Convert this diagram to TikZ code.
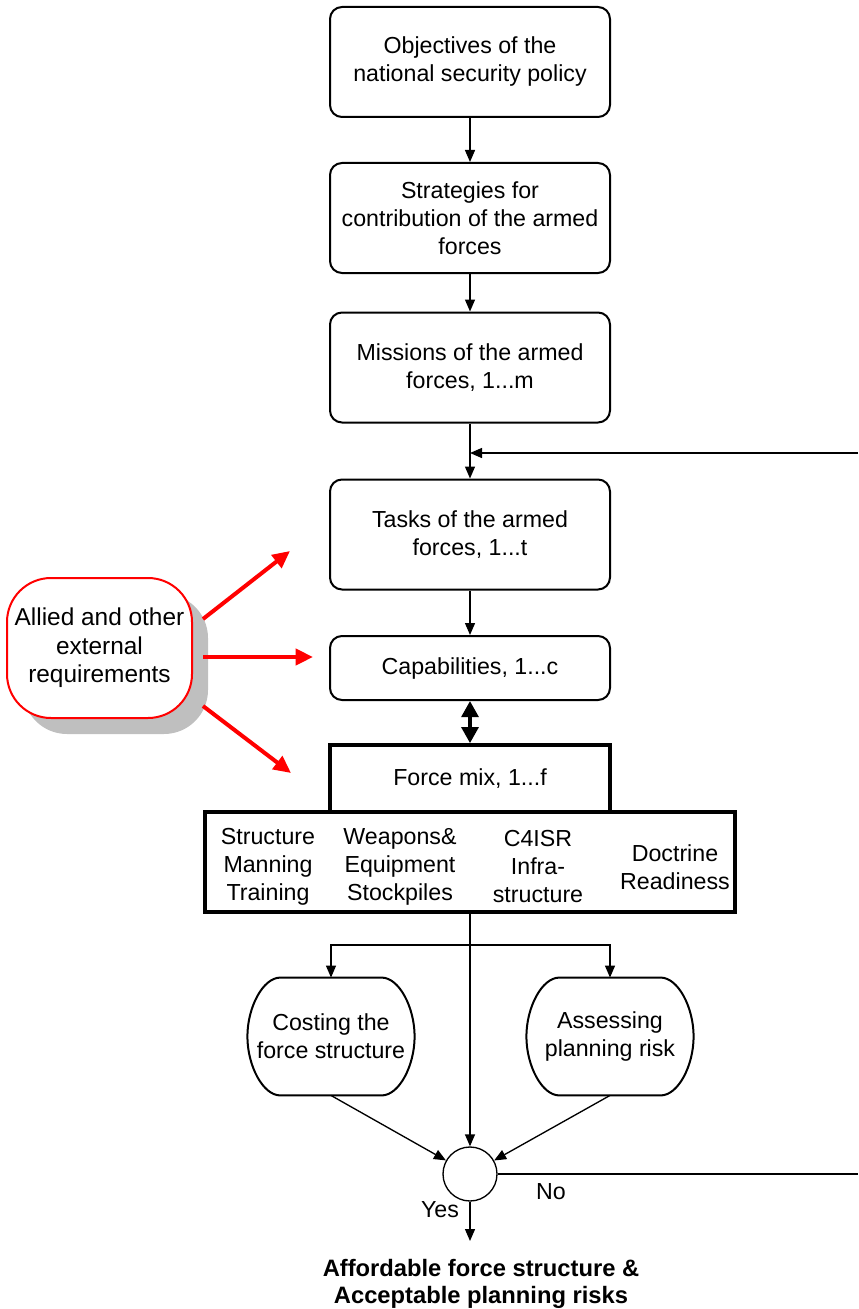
\documentclass[tikz,border=0pt]{standalone}
\usepackage{fontspec}
\setmainfont{Liberation Sans}
\usetikzlibrary{arrows.meta,calc}
\begin{document}
\begin{tikzpicture}[x=0.75pt,y=-0.75pt,
  every node/.style={font=\fontsize{17.4}{21}\selectfont, align=center, inner sep=0pt},
  box/.style={draw, line width=1.5pt, rounded corners=9pt, minimum width=210pt, minimum height=82.5pt},
  thickbox/.style={draw, line width=3pt, minimum width=210pt, minimum height=50pt},
  oval/.style={minimum width=125pt, minimum height=88pt},
  ovalline/.style={line width=1.5pt},
  arr/.style={-{Triangle[length=9pt,width=7.5pt]}, line width=1pt},
  dblarr/.style={{Triangle[length=12pt,width=12.5pt]}-{Triangle[length=12pt,width=12.5pt]}, line width=2.8pt},
  redarr/.style={-{Triangle[length=13pt,width=12pt]}, line width=3pt, red}]
\useasboundingbox (0,0) rectangle (858,1309);

\node[box] (obj) at (470,62) {Objectives of the\\national security policy};
\node[box] (str) at (470,218) {Strategies for\\contribution of the armed\\forces};
\node[box] (mis) at (470,367.5) {Missions of the armed\\forces, 1...m};
\node[box] (tas) at (470,534.5) {Tasks of the armed\\forces, 1...t};
\node[box, minimum height=48pt] (cap) at (470,668) {Capabilities, 1...c};

\node[draw, line width=3pt, minimum width=397.5pt, minimum height=75pt] (mix) at (470,862) {};
\node[thickbox] (force) at (470,778.5) {Force mix, 1...f};
\node (c1) at (268,867) {Structure\\Manning\\Training};
\node (c2) at (400,867) {Weapons\&\\Equipment\\Stockpiles};
\node (c3) at (538,867) {C4ISR\\Infra-\\structure};
\node (c4) at (675,867) {Doctrine\\Readiness};

\node[oval] (cost) at (331,1036.5) {Costing the\\force structure};
\node[oval] (assess) at (610,1036.5) {Assessing\\planning risk};
\foreach \N in {cost,assess}{
  \draw[ovalline] ([xshift=-38pt]\N.north) -- ([xshift=38pt]\N.north)
    .. controls ([xshift=51pt]\N.north) and ([yshift=22pt]\N.east) .. (\N.east)
    .. controls ([yshift=-22pt]\N.east) and ([xshift=51pt]\N.south) .. ([xshift=38pt]\N.south)
    -- ([xshift=-38pt]\N.south)
    .. controls ([xshift=-51pt]\N.south) and ([yshift=-22pt]\N.west) .. (\N.west)
    .. controls ([yshift=22pt]\N.west) and ([xshift=-51pt]\N.north) .. cycle;
}
\node[draw, circle, line width=1pt, minimum size=40.5pt] (circ) at (470,1174) {};

\node (yes) at (440,1210) {Yes};
\node (no) at (551,1192) {No};
\node[font=\fontsize{17.8}{20}\selectfont\bfseries] (res) at (481,1284) {Affordable force structure \&\\Acceptable planning risks};

% allied
\node[fill=black!25, rounded corners=33pt, minimum width=138.75pt, minimum height=105pt] (allsh) at (115.5,664) {};
\node[draw=red, fill=white, line width=1.5pt, rounded corners=33pt, minimum width=138.75pt, minimum height=105pt, font=\fontsize{18.3}{21.3}\selectfont] (all) at (99.5,648) {Allied and other\\external\\requirements};

% connectors
\draw[arr] (obj) -- (str);
\draw[arr] (str) -- (mis);
\draw[arr] (mis) -- (tas);
\draw[arr] (tas) -- (cap);
\draw[dblarr] (cap) -- (force);

\coordinate (fork) at (470,945);
\draw[arr] (mix.south) -- (circ.north);
\draw[arr] (fork) -| (cost.north);
\draw[arr] (fork) -| (assess.north);
\draw[arr] (cost.south) -- (circ);
\draw[arr] (assess.south) -- (circ);

\coordinate (noEnd) at (858,1174);
\draw[line width=1pt] (circ.east) -- (noEnd);
\coordinate (fbR) at (858,453);
\coordinate (fbL) at (470,453);
\draw[arr] (fbR) -- (fbL);
\coordinate (yesEnd) at (470,1241);
\draw[arr] (circ.south) -- (yesEnd);

\coordinate (r1) at (290,551);
\coordinate (r2) at (313,657);
\coordinate (r3) at (291,773);
\draw[redarr] ([shift={(10,-29)}]all.east) -- (r1);
\draw[redarr] ([shift={(10,9)}]all.east) -- (r2);
\draw[redarr] ([shift={(10,58)}]all.east) -- (r3);
\end{tikzpicture}
\end{document}
